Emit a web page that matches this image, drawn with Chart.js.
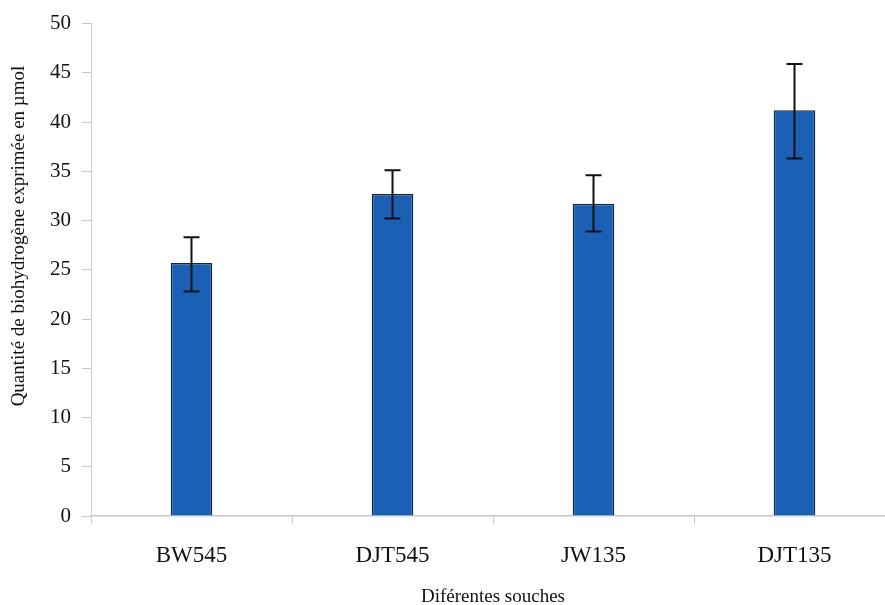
<!DOCTYPE html>
<html><head><meta charset="utf-8">
<script src="https://cdn.jsdelivr.net/npm/chart.js@4/dist/chart.umd.min.js"></script>
<style>
html,body{margin:0;padding:0;background:#fff;overflow:hidden;width:885px;height:605px}
#wrap{width:905px;height:605px;position:relative}
</style></head>
<body><div id="wrap"><canvas id="c" width="905" height="605"></canvas></div>
<script>
const categories = ["BW545", "DJT545", "JW135", "DJT135"];
const values = [25.7, 32.7, 31.7, 41.2];
const errHigh = [28.3, 35.1, 34.6, 45.9];
const errLow = [22.8, 30.2, 28.9, 36.3];
const yTicks = [0, 5, 10, 15, 20, 25, 30, 35, 40, 45, 50];
const xTitle = "Diférentes souches";
const yTitle = "Quantité de biohydrogène exprimée en µmol";

const serif = "'Liberation Serif', 'Times New Roman', serif";

const errorBars = {
  id: 'errorBars',
  afterDatasetsDraw(chart) {
    const ctx = chart.ctx;
    const meta = chart.getDatasetMeta(0);
    const y = chart.scales.y;
    ctx.save();
    ctx.strokeStyle = '#111';
    ctx.lineWidth = 2;
    meta.data.forEach((bar, i) => {
      const x = bar.x;
      const yh = y.getPixelForValue(errHigh[i]);
      const yl = y.getPixelForValue(errLow[i]);
      ctx.beginPath();
      ctx.moveTo(x, yh); ctx.lineTo(x, yl);
      ctx.moveTo(x - 8, yh); ctx.lineTo(x + 8, yh);
      ctx.moveTo(x - 8, yl); ctx.lineTo(x + 8, yl);
      ctx.stroke();
    });
    ctx.restore();
  }
};

const yTitlePlugin = {
  id: 'yTitlePlugin',
  afterDraw(chart) {
    const ctx = chart.ctx;
    ctx.save();
    ctx.translate(19, 236);
    ctx.rotate(-Math.PI / 2);
    ctx.font = "19px " + serif;
    ctx.fillStyle = '#111';
    ctx.textAlign = 'center';
    ctx.textBaseline = 'middle';
    ctx.fillText(yTitle, 0, 0);
    ctx.restore();
  }
};

new Chart(document.getElementById('c'), {
  type: 'bar',
  data: {
    labels: categories,
    datasets: [{
      data: values,
      backgroundColor: '#1c60b6',
      borderColor: '#16263d',
      borderWidth: 1.5,
      barPercentage: 0.207,
      categoryPercentage: 1
    }]
  },
  options: {
    responsive: false,
    animation: false,
    layout: { padding: { left: 0, right: 10, top: 21, bottom: 0 } },
    plugins: { legend: { display: false }, tooltip: { enabled: false } },
    scales: {
      x: {
        afterFit(s) { s.height = 89; },
        grid: { drawOnChartArea: false, drawTicks: true, tickLength: 8, color: '#c8c8c8', offset: true },
        border: { color: '#c8c8c8', width: 1.5 },
        ticks: { font: { family: serif, size: 23 }, color: '#111', padding: 18 },
        title: { display: true, text: xTitle, font: { family: serif, size: 19, lineHeight: 0.8 }, color: '#111', padding: { top: 0, bottom: 0 } }
      },
      y: {
        min: 0, max: 50,
        afterFit(s) { s.width = 91; },
        afterBuildTicks(s) { s.ticks = yTicks.map(v => ({ value: v })); },
        grid: { drawOnChartArea: false, drawTicks: true, tickLength: 9, color: '#c8c8c8' },
        border: { color: '#d0d0d0', width: 1 },
        ticks: { font: { family: serif, size: 21 }, color: '#111', padding: 11 }
      }
    }
  },
  plugins: [errorBars, yTitlePlugin]
});
</script></body></html>
